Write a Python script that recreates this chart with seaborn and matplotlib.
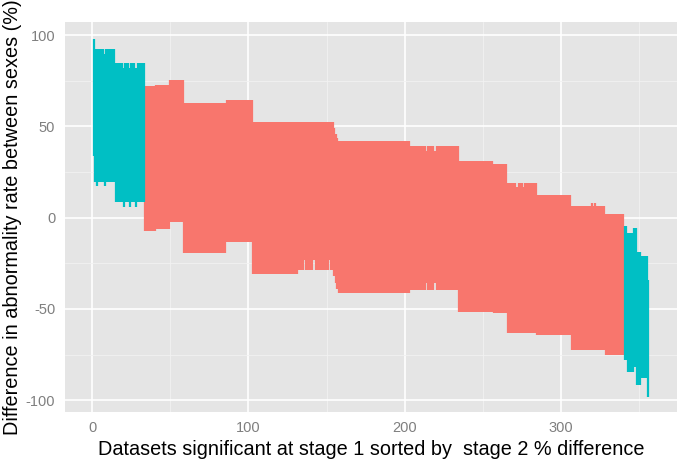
import numpy as np
import pandas as pd
import seaborn as sns
import matplotlib.pyplot as plt
from matplotlib.ticker import MultipleLocator

# runs of datasets sharing the same interval (left to right)
run_len = [1, 1, 1, 4, 1, 6,
           5, 1, 3, 1, 3, 1, 5,
           7, 9, 9, 27, 17, 29,
           4, 1, 5, 1, 1, 8, 1, 2,
           1, 1, 1, 46,
           10, 1, 4, 2, 14, 22, 9,
           6, 1, 3, 1, 8, 22,
           13, 1, 1, 1, 6, 12,
           2, 4, 2, 3, 4, 1]
run_lower = [34.0, 19.7, 17.5, 19.7, 17.5, 19.7,
             8.8, 6.0, 8.8, 6.0, 8.8, 6.0, 8.8,
             -7.5, -6.5, -2.3, -19.2, -13.1, -30.8,
             -28.6, -23.0, -28.6, -23.0, -28.6, -28.6, -23.0, -28.6,
             -32.0, -36.0, -39.0, -41.4,
             -39.6, -36.0, -39.6, -36.0, -39.6, -51.5, -52.5,
             -63.3, -63.3, -63.3, -63.3, -63.3, -64.3,
             -72.4, -72.4, -72.4, -72.4, -72.4, -75.2,
             -78.0, -84.3, -82.0, -91.6, -88.0, -98.0]
run_upper = [97.7, 92.2, 92.2, 92.2, 89.5, 92.2,
             84.5, 82.0, 84.5, 82.0, 84.5, 82.0, 84.5,
             72.3, 72.8, 75.2, 63.0, 64.5, 52.6,
             52.3, 52.3, 52.3, 52.3, 52.3, 52.3, 52.3, 52.3,
             49.0, 46.0, 43.5, 42.2,
             39.1, 36.5, 39.1, 36.5, 39.1, 31.2, 29.5,
             18.8, 17.0, 18.8, 17.0, 18.8, 12.4,
             6.4, 8.0, 6.4, 8.0, 6.4, 2.0,
             -4.7, -8.5, -5.5, -18.6, -21.0, -34.0]

x_ticks = [0, 100, 200, 300]
y_ticks = [-100, -50, 0, 50, 100]

lower = np.repeat(run_lower, run_len)
upper = np.repeat(run_upper, run_len)
idx = np.arange(1, len(lower) + 1)
sig = (lower > 0) | (upper < 0)

df = pd.concat([
    pd.DataFrame({'idx': idx, 'value': lower, 'sig': sig}),
    pd.DataFrame({'idx': idx, 'value': upper, 'sig': sig}),
]).sort_values('idx', kind='stable')

sns.set_theme(style='darkgrid')
plt.rcParams['font.family'] = ['Liberation Sans', 'DejaVu Sans']
plt.rcParams['axes.unicode_minus'] = False

fig = plt.figure(figsize=(6.77, 4.63), dpi=100)
ax = fig.add_axes([65 / 677, 51.3 / 463, 612 / 677, 390 / 463])
ax.set_facecolor('#E5E5E5')

sns.lineplot(data=df, x='idx', y='value', units='idx', estimator=None,
             hue='sig', palette={True: '#00BFC4', False: '#F8766D'},
             sort=False, legend=False, linewidth=1.6,
             solid_capstyle='butt', ax=ax)

ax.set_xlim(-17.5, 374.5)
ax.set_ylim(-106.3, 107.3)
ax.set_xticks(x_ticks)
ax.set_yticks(y_ticks)
ax.xaxis.set_minor_locator(MultipleLocator(50))
ax.yaxis.set_minor_locator(MultipleLocator(25))
ax.set_axisbelow(True)
ax.grid(which='major', color='white', linewidth=1.2)
ax.grid(which='minor', color='#F2F2F2', linewidth=0.6)
for s in ax.spines.values():
    s.set_visible(False)

ax.tick_params(which='major', length=4, width=1, color='#7F7F7F',
               labelcolor='#7F7F7F', labelsize=10.5, pad=3)
ax.tick_params(which='minor', length=0)

ax.set_xlabel('Datasets significant at stage 1 sorted by  stage 2 % difference',
              fontsize=14.3, color='black', labelpad=3)
ax.set_ylabel('Difference in abnormality rate between sexes (%)',
              fontsize=14.3, color='black', labelpad=3)

fig.savefig('out.png', dpi=100)
